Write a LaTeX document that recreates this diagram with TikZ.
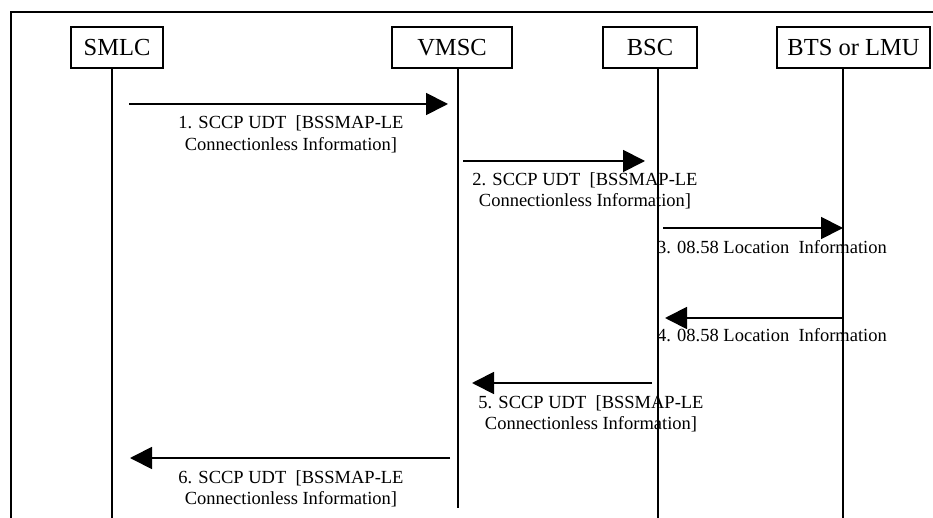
\documentclass[tikz,border=0pt]{standalone}
\usepackage{fontspec}
\setmainfont{Liberation Serif}
\usetikzlibrary{arrows.meta}
\begin{document}
\begin{tikzpicture}[x=1pt,y=-1pt,
  ent/.style={draw,line width=1.2pt,minimum height=41pt,inner sep=0pt,font=\fontsize{24.5}{28}\selectfont},
  life/.style={line width=1.2pt},
  msg/.style={line width=1.8pt,-{Triangle[length=22pt,width=22pt]}},
  lbl/.style={inner sep=0pt,align=center,font=\fontsize{18.5}{21.5}\selectfont},
  frame/.style={line width=1.6pt}]
\useasboundingbox (0,0) rectangle (933,518);
% frame
\coordinate (fbl) at (11,518);
\coordinate (ftl) at (11,12);
\coordinate (ftr) at (933,12);
\draw[frame] (fbl) -- (ftl) -- (ftr);
% entities
\node[ent,minimum width=92pt]  (smlc) at (117,47.5) {SMLC};
\node[ent,minimum width=120pt] (vmsc) at (452,47.5) {VMSC};
\node[ent,minimum width=94pt]  (bsc)  at (650,47.5) {BSC};
\node[ent,minimum width=153pt] (bts)  at (853.5,47.5) {BTS or LMU};
% lifelines
\coordinate (lsmlc) at (112,518);
\coordinate (lvmsc) at (458,508);
\coordinate (lbsc)  at (658,518);
\coordinate (lbts)  at (843,518);
\draw[life] (smlc.south -| lsmlc) -- (lsmlc);
\draw[life] (vmsc.south -| lvmsc) -- (lvmsc);
\draw[life] (bsc.south -| lbsc) -- (lbsc);
\draw[life] (bts.south -| lbts) -- (lbts);
% messages
\coordinate (m1a) at (129,104); \coordinate (m1b) at (448,104);
\coordinate (m2a) at (463,161); \coordinate (m2b) at (645,161);
\coordinate (m3a) at (663,228); \coordinate (m3b) at (843,228);
\coordinate (m4a) at (843,318); \coordinate (m4b) at (665,318);
\coordinate (m5a) at (652,383); \coordinate (m5b) at (472,383);
\coordinate (m6a) at (450,458); \coordinate (m6b) at (130,458);
\draw[msg] (m1a) -- (m1b);
\draw[msg] (m2a) -- (m2b);
\draw[msg] (m3a) -- (m3b);
\draw[msg] (m4a) -- (m4b);
\draw[msg] (m5a) -- (m5b);
\draw[msg] (m6a) -- (m6b);
% labels
\node[lbl] (t1) at (291,134.5) {1. SCCP UDT\ \ [BSSMAP-LE\\Connectionless Information]};
\node[lbl] (t2) at (585,191) {2. SCCP UDT\ \ [BSSMAP-LE\\Connectionless Information]};
\node[lbl,anchor=west] (t3) at (657,247) {3. 08.58 Location\ \ Information};
\node[lbl,anchor=west] (t4) at (657,335) {4. 08.58 Location\ \ Information};
\node[lbl] (t5) at (591,414) {5. SCCP UDT\ \ [BSSMAP-LE\\Connectionless Information]};
\node[lbl] (t6) at (291,489) {6. SCCP UDT\ \ [BSSMAP-LE\\Connectionless Information]};
\end{tikzpicture}
\end{document}
